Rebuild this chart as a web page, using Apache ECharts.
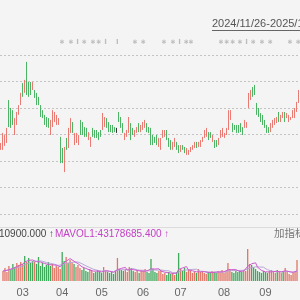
<!DOCTYPE html>
<html><head><meta charset="utf-8">
<script src="https://cdn.jsdelivr.net/npm/echarts@6/dist/echarts.min.js"></script>
<style>html,body{margin:0;padding:0;background:#f4f4f4}#c{width:300px;height:300px}</style>
</head><body><div id="c"></div>
<script>
// month tick labels and the candle index where each month begins
const monthLabels = ['03','04','05','06','07','08','09'];
const monthStart  = [10, 30, 50, 71, 90, 112, 133];

// daily candles: [open, close, low, high]
const candles = [
[9.47,9.63,9.42,9.68],[9.47,10.01,9.42,10.06],[9.62,9.93,9.57,9.98],[9.73,10.20,9.68,10.25],[11.25,10.33,10.28,11.30],
[10.95,10.30,10.25,11.00],[10.87,10.41,10.36,10.92],[10.03,10.57,9.98,10.62],[10.41,10.80,10.36,10.85],[10.79,11.06,10.74,11.11],
[11.16,11.52,11.11,11.57],[11.89,11.47,11.42,11.94],[11.62,12.01,11.57,12.06],[12.40,11.54,11.49,12.74],[11.93,11.47,11.42,11.98],
[11.93,11.54,11.49,11.98],[11.73,11.93,11.68,11.98],[11.63,11.43,11.38,11.68],[11.52,11.16,11.11,11.57],[11.37,11.16,11.11,11.42],
[11.06,10.71,10.66,11.11],[10.87,10.67,10.62,10.92],[10.69,10.41,10.36,10.74],[10.61,10.33,10.28,10.66],[10.57,10.30,10.25,10.62],
[10.03,10.50,9.98,10.55],[10.33,10.87,10.28,10.92],[10.52,10.80,10.47,10.85],[10.41,10.69,10.36,10.74],[10.41,10.57,10.36,10.62],
[9.86,8.97,8.92,9.91],[9.44,8.97,8.92,9.49],[8.75,9.48,8.58,9.53],[9.82,9.47,9.42,9.87],[9.54,10.20,9.49,10.25],
[10.11,10.57,10.06,10.62],[10.42,10.11,10.06,10.47],[9.65,10.01,9.60,10.06],[9.73,10.01,9.68,10.06],[9.65,9.93,9.60,9.98],
[10.50,10.03,9.98,10.55],[10.42,10.03,9.98,10.47],[10.23,9.96,9.91,10.28],[10.20,9.96,9.91,10.25],[9.84,10.04,9.79,10.09],
[9.58,9.86,9.53,9.91],[10.20,9.96,9.91,10.25],[10.12,9.92,9.87,10.17],[10.12,9.92,9.87,10.17],[10.04,9.84,9.79,10.09],
[10.12,9.96,9.91,10.17],[10.22,10.76,10.17,10.81],[10.33,10.61,10.28,10.66],[10.57,10.30,10.25,10.62],[10.42,10.14,10.09,10.47],
[10.31,10.14,10.09,10.36],[10.31,10.11,10.06,10.36],[10.23,10.14,10.09,10.28],[10.15,10.15,10.06,10.25],[10.80,10.52,10.47,10.85],
[10.61,10.30,10.25,10.66],[10.38,10.11,10.06,10.43],[9.84,10.01,9.79,10.06],[9.96,10.12,9.91,10.17],[10.11,10.61,10.06,10.66],
[10.38,9.84,9.79,10.43],[10.20,10.03,9.98,10.25],[9.96,10.12,9.91,10.17],[10.11,10.23,10.06,10.28],[10.38,10.14,10.09,10.43],
[10.14,10.31,10.09,10.36],[10.22,10.42,10.17,10.47],[10.30,10.50,10.25,10.55],[10.38,10.14,10.09,10.43],[10.23,10.11,10.06,10.28],
[10.20,9.65,9.60,10.25],[9.93,9.65,9.60,9.98],[9.86,9.73,9.68,9.91],[9.93,9.65,9.60,9.98],[9.58,9.82,9.53,9.87],
[9.47,9.82,9.42,9.87],[9.92,10.12,9.87,10.17],[9.96,10.12,9.91,10.17],[10.12,9.84,9.79,10.17],[9.82,9.58,9.53,9.87],
[9.74,9.47,9.42,9.79],[9.47,9.67,9.42,9.72],[9.58,9.82,9.53,9.87],[9.67,9.47,9.42,9.72],[9.55,9.35,9.30,9.60],
[9.39,9.55,9.34,9.60],[9.55,9.47,9.42,9.60],[9.48,9.35,9.30,9.53],[9.28,9.44,9.23,9.49],[9.28,9.37,9.23,9.42],
[9.39,9.48,9.34,9.53],[9.47,9.55,9.42,9.60],[9.54,9.67,9.49,9.72],[9.67,9.54,9.49,9.72],[9.58,9.67,9.53,9.72],
[9.58,9.74,9.53,9.79],[9.77,9.86,9.72,9.91],[9.92,10.12,9.87,10.17],[9.96,10.20,9.91,10.25],[10.04,9.84,9.79,10.09],
[10.04,9.92,9.87,10.09],[9.77,9.93,9.72,9.98],[9.74,9.54,9.49,9.79],[9.74,9.58,9.53,9.79],[9.65,9.82,9.60,9.87],
[9.92,10.12,9.87,10.17],[9.96,10.20,9.91,10.25],[9.92,10.01,9.87,10.06],[10.03,10.20,9.98,10.25],[10.22,10.87,10.17,10.92],
[10.60,10.87,10.55,10.92],[10.38,10.14,10.09,10.43],[10.31,10.22,10.17,10.36],[10.31,10.11,10.06,10.36],[10.31,10.11,10.06,10.36],
[10.38,10.14,10.09,10.43],[10.23,10.03,9.98,10.28],[10.30,10.50,10.25,10.55],[10.30,10.42,10.25,10.47],[11.05,11.52,11.00,11.57],
[11.35,11.63,11.30,11.68],[11.74,11.47,11.42,11.79],[11.82,11.54,11.49,11.87],[11.14,10.79,10.74,11.19],[10.95,10.71,10.66,11.00],
[10.76,10.52,10.47,10.81],[10.69,10.41,10.36,10.74],[10.50,10.30,10.25,10.55],[10.31,10.11,10.06,10.36],[10.23,10.11,10.06,10.28],
[10.14,10.38,10.09,10.43],[10.30,10.50,10.25,10.55],[10.41,10.57,10.36,10.62],[10.48,10.61,10.43,10.66],[10.80,10.52,10.47,10.85],
[10.52,10.69,10.47,10.74],[10.67,10.80,10.62,10.85],[10.80,10.52,10.47,10.85],[10.67,10.76,10.62,10.81],[10.52,10.69,10.47,10.74],
[10.58,10.63,10.55,10.66],[10.67,10.87,10.62,10.92],[10.67,10.95,10.62,11.00],[10.90,11.18,10.85,11.23],[11.24,11.63,11.19,11.68]
];

// daily volume (millions of shares)
const volume = [
40,52,36,60,48, 68,56,72,64,76, 68,100,76,92,72, 80,76,68,96,60,
72,56,64,76,60, 68,52,60,56,48, 116,80,96,72,84, 76,68,56,64,52,
44,52,40,36,48, 40,32,36,44,36, 32,56,40,36,32, 36,28,40,92,48,
44,40,48,36,56, 52,40,36,44,32, 44,40,48,36,32, 88,48,36,32,40,
44,28,32,24,36, 28,32,24,36,112, 48,40,52,36,44, 40,32,36,32,48,
36,40,32,28,36, 32,40,36,32,40, 36,44,32,40,72, 48,36,32,40,36,
44,36,44,40,128, 68,64,56,48,40, 36,32,40,36,32, 40,44,36,32,44,
36,32,40,52,36, 28,24,32,36,84
];

// MAVOL1 and MAVOL2 lines (millions)
const mavol1 = [
40,46,42.8,47,47.2, 52.8,53.6,60.8,61.6,67.2, 67.2,76,76.8,82.4,81.6, 84,79.2,77.6,78.4,76,
74.4,70.4,69.6,65.6,65.6, 64.8,64,63.2,59.2,56.8, 66.4,72,79.2,82.4,89.6, 81.6,79.2,71.2,69.6,63.2,
56.8,53.6,50.4,44.8,44, 43.2,39.2,38.4,40,37.6, 36,40.8,41.6,40,39.2, 40,34.4,34.4,45.6,48.8,
50.4,52.8,54.4,43.2,44.8, 46.4,46.4,44,45.6,40.8, 39.2,39.2,41.6,40,40, 48.8,50.4,48,47.2,48.8,
40,36,35.2,33.6,32.8, 29.6,30.4,28.8,31.2,46.4, 50.4,52,57.6,57.6,44, 42.4,40.8,37.6,36.8,37.6,
36.8,38.4,37.6,36.8,34.4, 33.6,33.6,34.4,35.2,36, 36.8,37.6,36.8,38.4,44.8, 47.2,45.6,45.6,45.6,38.4,
37.6,37.6,40,40,58.4, 63.2,68.8,71.2,72.8,55.2, 48.8,42.4,39.2,36.8,35.2, 36,38.4,37.6,36.8,39.2,
38.4,36,36.8,40.8,39.2, 37.6,36,34.4,31.2,40.8
];
const mavol2 = [
40,46,42.8,47,47.2, 50.8,51.6,54,55.2,57.2, 60,64.8,68.8,72,74.4, 75.6,77.6,77.2,80.4,78.8,
79.2,74.8,73.6,72,70.8, 69.6,67.2,66.4,62.4,61.2, 65.6,68,71.2,70.8,73.2, 74,75.6,75.2,76,76.4,
69.2,66.4,60.8,57.2,53.6, 50,46.4,44.4,42.4,40.8, 39.6,40,40,40,38.4, 38,37.6,38,42.8,44,
45.2,43.6,44.4,44.4,46.8, 48.4,49.6,49.2,44.4,42.8, 42.8,42.8,42.8,42.8,40.4, 44,44.8,44.8,43.6,44.4,
44.4,43.2,41.6,40.4,40.8, 34.8,33.2,32,32.4,39.6, 40,41.2,43.2,44.4,45.2, 46.4,46.4,47.6,47.2,40.8,
39.6,39.6,37.6,36.8,36, 35.2,36,36,36,35.2, 35.2,35.6,35.6,36.8,40.4, 42,41.6,41.2,42,41.6,
42.4,41.6,42.8,42.8,48.4, 50.4,53.2,55.6,56.4,56.8, 56,55.6,55.2,54.8,45.2, 42.4,40.4,38.4,36.8,37.2,
37.2,37.2,37.2,38.8,39.2, 38,36,35.6,36,40
];

// tiny marker glyphs along the top strip
const markerTexts = ['∗','∗ I ∗','∗∗ I','I','∗ ∗','∗','∗ I ∗','∗','∗∗∗','∗ I ∗','∗ ∗','∗ ∗ ∗'];
const markerX     = [59, 68, 90, 116, 132, 161, 170, 188, 218, 237, 259, 287];

const categories = candles.map(function(_, i){
  const k = monthStart.indexOf(i);
  return k >= 0 ? monthLabels[k] : '';
});

const UP = '#ea7b74', DOWN = '#4db466';
const VUP = '#e27565', VDOWN = '#3fa95c';
const volData = volume.map(function(v, i){
  const c = candles[i];
  return {value: v, itemStyle: {color: c[1] >= c[0] ? VUP : VDOWN}};
});

const graphics = [
  {type:'text', left:212, top:18, style:{text:'2024/11/26-2025/11/26', fill:'#555', font:'11px "Liberation Sans"'}},
  {type:'line', shape:{x1:212, y1:30.5, x2:300, y2:30.5}, style:{stroke:'#666', lineWidth:1}},
  {type:'line', shape:{x1:0, y1:227.5, x2:300, y2:227.5}, style:{stroke:'#dcdcdc', lineWidth:1}},
  {type:'text', left:-1, top:229, style:{text:'10900.000 ↑', fill:'#444', font:'10px "Liberation Sans"'}},
  {type:'text', left:55, top:229, style:{text:'MAVOL1:43178685.400 ↑', fill:'#c33fc6', font:'10px "Liberation Sans"'}},
  {type:'text', left:274, top:228, style:{text:'加指标', fill:'#777', font:'10.5px "Noto Sans CJK SC"'}}
];
markerTexts.forEach(function(t, i){
  graphics.push({type:'text', left:markerX[i], top:39, style:{text:t, fill:'#bdbdbd', font:'bold 7px "DejaVu Sans"'}});
});

const chart = echarts.init(document.getElementById('c'), null, {renderer:'canvas'});
chart.setOption({
  backgroundColor: '#f4f4f4',
  animation: false,
  grid: [
    {left: 0, right: 0, top: 55, height: 159},
    {left: 0, right: 0, top: 245, height: 36}
  ],
  xAxis: [
    {type:'category', gridIndex:0, data:categories, boundaryGap:true,
     axisLine:{show:false}, axisTick:{show:false}, axisLabel:{show:false}, splitLine:{show:false}},
    {type:'category', gridIndex:1, data:categories, boundaryGap:true,
     axisLine:{show:false}, axisTick:{show:false}, splitLine:{show:false},
     axisLabel:{show:true, interval:0, color:'#666', fontSize:11, margin:6, fontFamily:'Liberation Sans'}}
  ],
  yAxis: [
    {type:'value', gridIndex:0, min:7, max:13, interval:1,
     axisLine:{show:false}, axisTick:{show:false}, axisLabel:{show:false},
     splitLine:{show:true, lineStyle:{color:'#c4c4c4', type:[2,2], width:1}}},
    {type:'value', gridIndex:1, min:0, max:144,
     axisLine:{show:false}, axisTick:{show:false}, axisLabel:{show:false}, splitLine:{show:false}}
  ],
  series: [
    {type:'candlestick', xAxisIndex:0, yAxisIndex:0, data:candles, barWidth:1.2,
     itemStyle:{color:UP, color0:DOWN, borderColor:UP, borderColor0:DOWN, borderColorDoji:'#333', borderWidth:1}},
    {type:'bar', xAxisIndex:1, yAxisIndex:1, data:volData, barWidth:1.3},
    {type:'line', xAxisIndex:1, yAxisIndex:1, data:mavol2, showSymbol:false, lineStyle:{color:'#b9a6d6', width:1}},
    {type:'line', xAxisIndex:1, yAxisIndex:1, data:mavol1, showSymbol:false, lineStyle:{color:'#cf5acf', width:1}}
  ],
  graphic: graphics
});
</script></body></html>
